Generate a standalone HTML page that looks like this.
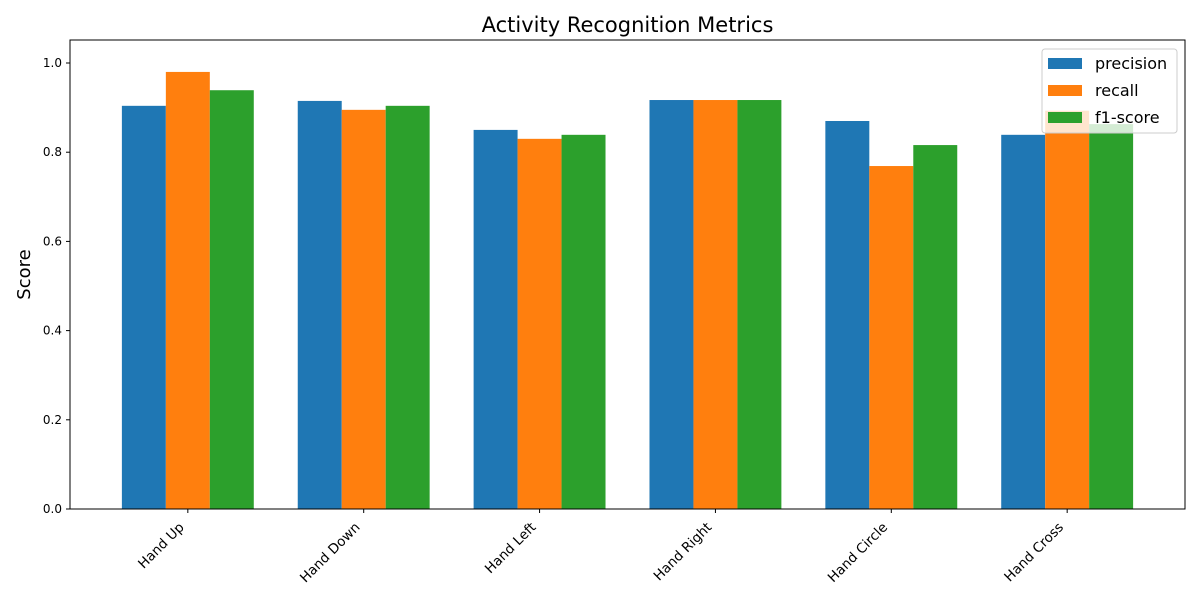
<!DOCTYPE html>
<html><head><meta charset="utf-8"><style>
body{margin:0;background:#fff;font-family:"Liberation Sans","DejaVu Sans",sans-serif}
svg text{font-family:"DejaVu Sans","Liberation Sans",sans-serif}
</style></head><body>
<svg id="chart" width="1200" height="600"></svg>
<script>
const categories=["Hand Up","Hand Down","Hand Left","Hand Right","Hand Circle","Hand Cross"];
const precision=[0.904,0.915,0.85,0.917,0.87,0.839];
const recall=[0.98,0.895,0.83,0.917,0.769,0.893];
const f1=[0.939,0.904,0.839,0.917,0.816,0.863];
const seriesNames=["precision","recall","f1-score"];
const colors=["#1f77b4","#ff7f0e","#2ca02c"];
const yTicks=[0,0.2,0.4,0.6,0.8,1.0];
const L=70,R=1185,T=40,B=509;
const xMin=-0.67,xMax=5.67,yMax=1.0516;
const xs=v=>L+(v-xMin)/(xMax-xMin)*(R-L);
const ys=v=>B-v/yMax*(B-T);
const svg=document.getElementById('chart');
const NS="http://www.w3.org/2000/svg";
function mk(t,a,p){const e=document.createElementNS(NS,t);for(const k in a)e.setAttribute(k,a[k]);(p||svg).appendChild(e);return e;}
const series=[precision,recall,f1];
const bw=0.25;
series.forEach((s,si)=>{s.forEach((v,i)=>{
 const x0=xs(i+(si-1)*bw-bw/2),x1=xs(i+(si-1)*bw+bw/2);
 const r=mk('rect',{x:x0,y:ys(v),width:x1-x0,height:ys(0)-ys(v),fill:colors[si]});
 
 
});});
const ax=mk('rect',{x:L,y:T,width:R-L,height:B-T,fill:'none',stroke:'#000','stroke-width':1});


yTicks.forEach(t=>{
 const y=ys(t);
 mk('line',{x1:L-4,x2:L,y1:y,y2:y,stroke:'#000'});
 const tx=mk('text',{x:L-8,y:y+4,'text-anchor':'end','font-size':12});tx.textContent=t.toFixed(1);
 
 
});
categories.forEach((c,i)=>{
 const x=xs(i);
 mk('line',{x1:x,x2:x,y1:B,y2:B+4,stroke:'#000'});
 const ax0=x-3,ay0=B+19;
 const tx=mk('text',{x:ax0,y:ay0,'text-anchor':'end','font-size':13.5,transform:`rotate(-45 ${ax0} ${ay0})`});tx.textContent=c;
 
 
});
const yt=mk('text',{x:30,y:(T+B)/2,'text-anchor':'middle','font-size':18,transform:`rotate(-90 30 ${(T+B)/2})`});yt.textContent='Score';


const tt=mk('text',{x:(L+R)/2,y:32,'text-anchor':'middle','font-size':21});tt.textContent='Activity Recognition Metrics';


const lg=mk('g',{});


mk('rect',{x:1042,y:49,width:135,height:84,rx:3,fill:'#fff','fill-opacity':0.8,stroke:'#ccc'},lg);
seriesNames.forEach((n,i)=>{
 const y=58+i*27;
 mk('rect',{x:1048,y:y,width:34,height:11,fill:colors[i]},lg);
 const tx=mk('text',{x:1095,y:y+11,'font-size':16},lg);tx.textContent=n;
 
 
});
</script>
</body></html>
